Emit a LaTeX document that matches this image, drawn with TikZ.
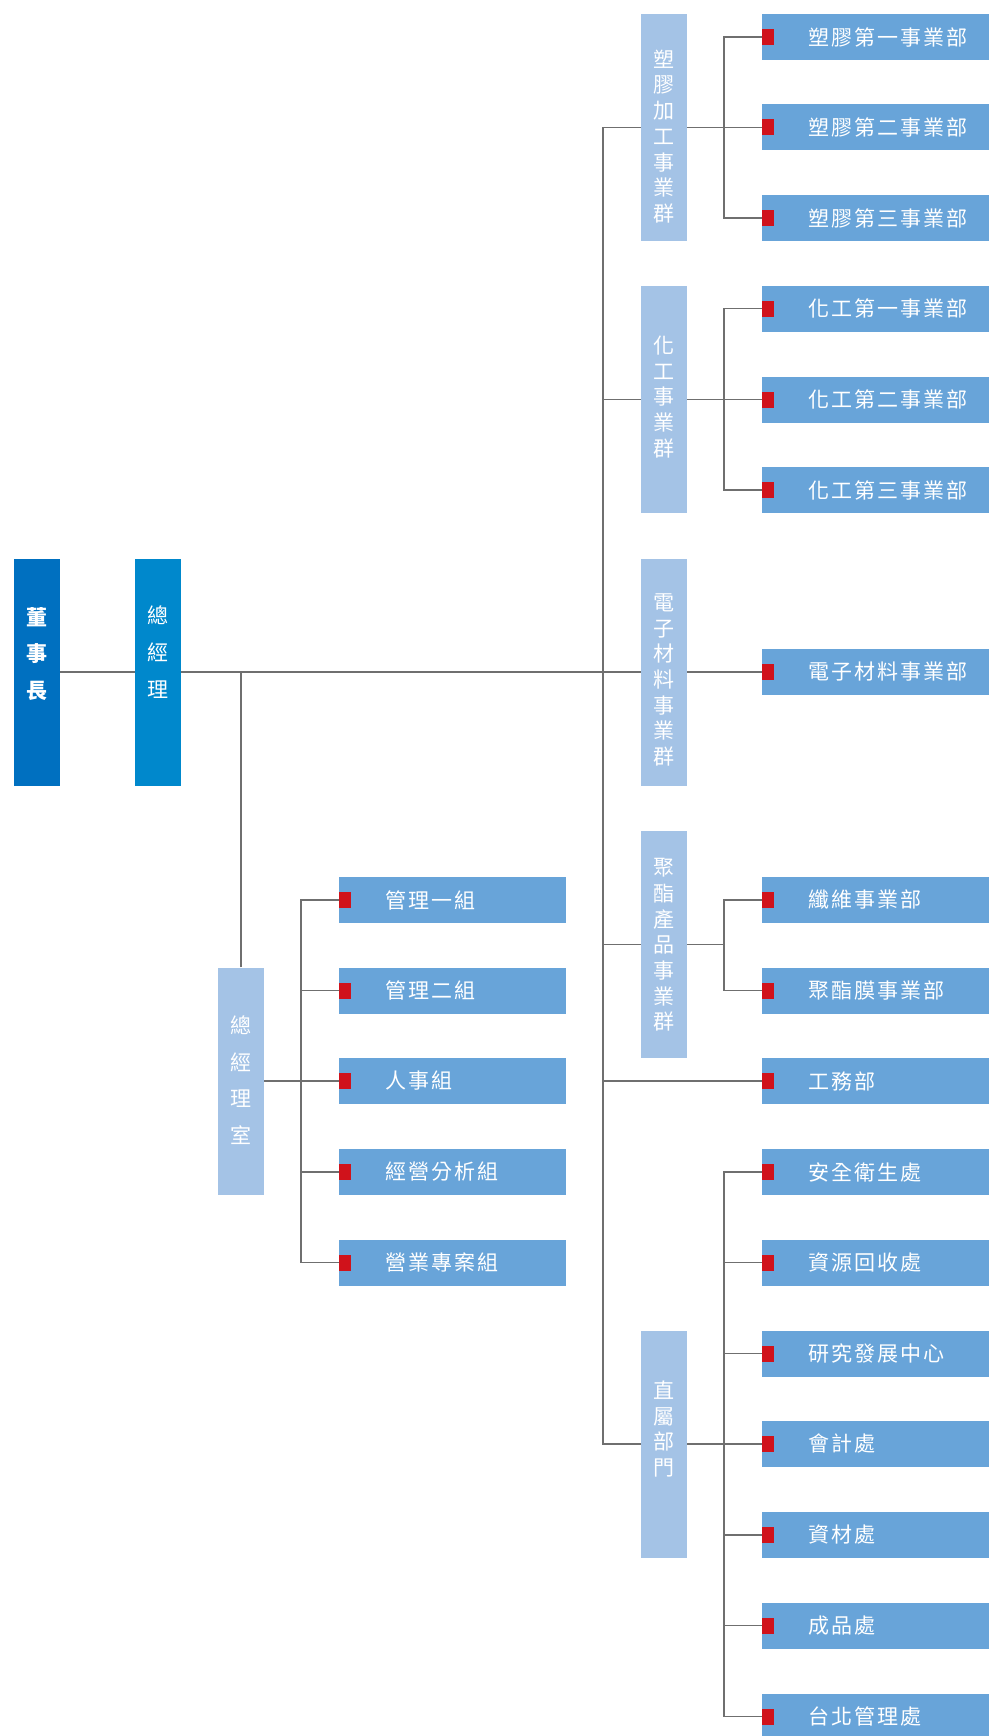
\documentclass[tikz,border=0pt]{standalone}
\usepackage{fontspec}
\setmainfont{Noto Sans CJK TC}
\newfontfamily\unitfont[LetterSpace=10]{Noto Sans CJK TC}

\definecolor{chairblue}{HTML}{0070C0}
\definecolor{gmblue}{HTML}{0088CC}
\definecolor{groupblue}{HTML}{A4C3E6}
\definecolor{unitblue}{HTML}{68A4D9}
\definecolor{tagred}{HTML}{D0121B}
\definecolor{linegray}{HTML}{6F6F6F}

\begin{document}
\begin{tikzpicture}[x=1pt, y=-1pt,
        link/.style={draw=linegray, line width=1.5pt},
        tallbox/.style={minimum width=46pt, minimum height=227pt, inner sep=0pt},
        vtext/.style={text=white, align=center, inner sep=0pt, font=\fontsize{21}{25.7}\selectfont},
        wtext/.style={text=white, align=center, inner sep=0pt, font=\fontsize{21}{36.7}\selectfont},
        unitbox/.style={fill=unitblue, anchor=west, minimum height=46pt, text width=227pt,
            inner xsep=0pt, inner ysep=0pt, align=left, text=white,
            font=\unitfont\fontsize{21}{24}\selectfont,
            execute at begin node={\noindent\hspace*{46pt}},
            path picture={\fill[tagred] ([yshift=8pt]path picture bounding box.west) rectangle ++(12,16);}}]
        \useasboundingbox (0,0) rectangle (989,1736);

        \node [tallbox, fill=chairblue] (chair) at (37,672) {};
        \node [wtext, font=\fontsize{21}{36.7}\selectfont\bfseries] (chairtxt) at (37,654) {董\\事\\長};
        \node [tallbox, fill=gmblue] (gm) at (158,672) {};
        \node [wtext] (gmtxt) at (158,652) {總\\經\\理};
        \node [tallbox, fill=groupblue] (gmo) at (241,1081) {};
        \node [wtext] (gmotxt) at (241,1080) {總\\經\\理\\室};

        \node [tallbox, fill=groupblue] (plastic) at (664,127.5) {};
        \node [vtext] (plastictxt) at (664,136.5) {塑\\膠\\加\\工\\事\\業\\群};
        \node [tallbox, fill=groupblue] (chem) at (664,399.5) {};
        \node [vtext] (chemtxt) at (664,397) {化\\工\\事\\業\\群};
        \node [tallbox, fill=groupblue] (elec) at (664,672) {};
        \node [vtext] (electxt) at (664,680) {電\\子\\材\\料\\事\\業\\群};
        \node [tallbox, fill=groupblue] (poly) at (664,944.5) {};
        \node [vtext] (polytxt) at (664,945) {聚\\酯\\產\\品\\事\\業\\群};
        \node [tallbox, fill=groupblue] (direct) at (664,1444) {};
        \node [vtext] (directtxt) at (664,1429) {直\\屬\\部\\門};

        \foreach \n/\y/\t in {p1/37/塑膠第一事業部, p2/127.5/塑膠第二事業部, p3/218/塑膠第三事業部,
                c1/308.5/化工第一事業部, c2/399.5/化工第二事業部, c3/490/化工第三事業部,
                e1/672/電子材料事業部, fiber/900/纖維事業部, film/990.5/聚酯膜事業部,
                works/1081/工務部, safety/1172/安全衛生處, recycle/1262.5/資源回收處,
                rd/1353.5/研究發展中心, acct/1444/會計處, material/1535/資材處,
                goods/1625.5/成品處, taipei/1716.5/台北管理處}
            \node [unitbox] (\n) at (762,\y) {\t};

        \foreach \n/\y/\t in {m1/900/管理一組, m2/990.5/管理二組, hr/1081/人事組,
                ana/1172/經營分析組, sales/1262.5/營業專案組}
            \node [unitbox] (\n) at (339,\y) {\t};

        \coordinate (trunk) at (603,0);
        \coordinate (rbar) at (724,0);
        \coordinate (lbar) at (301,0);

        \draw [link] (chair) -- (gm);
        \draw [link] (gm) -- (elec);
        \draw [link] (elec) -- (e1);
        \draw [link] (gmo) -- (gmo |- gm);

        \draw [link] (plastic) -| (trunk |- direct) -- (direct);
        \draw [link] (chem) -- (chem -| trunk);
        \draw [link] (poly) -- (poly -| trunk);
        \draw [link] (works) -- (works -| trunk);

        \draw [link] (p1) -| (rbar |- p3) -- (p3);
        \draw [link] (plastic) -- (p2);
        \draw [link] (c1) -| (rbar |- c3) -- (c3);
        \draw [link] (chem) -- (c2);
        \draw [link] (fiber) -| (rbar |- film) -- (film);
        \draw [link] (poly) -- (poly -| rbar);
        \draw [link] (safety) -| (rbar |- taipei) -- (taipei);
        \draw [link] (direct) -- (acct);
        \foreach \n in {recycle, rd, material, goods}
            \draw [link] (\n) -- (\n -| rbar);

        \draw [link] (m1) -| (lbar |- sales) -- (sales);
        \draw [link] (gmo) -- (hr);
        \foreach \n in {m2, ana}
            \draw [link] (\n) -- (\n -| lbar);
    \end{tikzpicture}
\end{document}
